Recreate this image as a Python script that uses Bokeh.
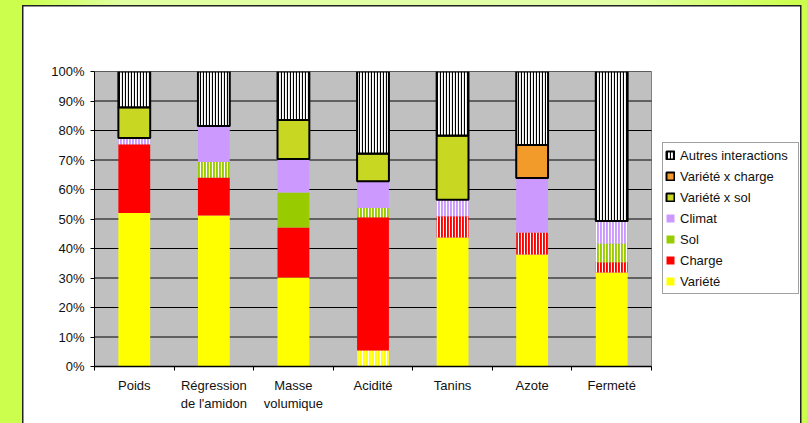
from bokeh.plotting import figure
from bokeh.models import (ColumnDataSource, Range1d, FixedTicker, PrintfTickFormatter,
                          Legend, LegendItem)
from bokeh.transform import stack
from bokeh.core.properties import field
from bokeh.embed import file_html
from bokeh.resources import INLINE

# ---------------- data ----------------
categories = ["Poids", "Régression\nde l'amidon", "Masse\nvolumique", "Acidité",
              "Tanins", "Azote", "Fermeté"]
series_names = ["Variété", "Charge", "Sol", "Climat", "Variété x sol",
                "Variété x charge", "Autres interactions"]

variete = [52.0, 51.2, 30.2, 5.4, 43.7, 38.0, 31.9]
charge = [23.3, 12.9, 16.9, 45.2, 7.2, 7.4, 3.4]
sol = [0.0, 5.2, 11.9, 3.1, 0.0, 0.0, 6.4]
climat = [2.2, 12.2, 11.3, 9.1, 5.6, 18.5, 7.6]
variete_x_sol = [10.4, 0.0, 13.3, 9.4, 21.8, 0.0, 0.0]
variete_x_charge = [0.0, 0.0, 0.0, 0.0, 0.0, 11.2, 0.0]
autres = [12.1, 18.5, 16.4, 27.8, 21.7, 24.9, 50.7]

# striped (hatched) segments
stripes_variete = [False, False, False, True, False, False, False]
stripes_charge = [False, False, False, False, True, True, True]
stripes_sol = [False, True, False, True, False, False, True]
stripes_climat = [True, False, False, False, True, False, True]
stripes_vxs = [False] * 7
stripes_vxc = [False] * 7
stripes_autres = [True] * 7

y_ticks = [0, 10, 20, 30, 40, 50, 60, 70, 80, 90, 100]

# ---------------- source ----------------
keys = ["variete", "charge", "sol", "climat", "vxs", "vxc", "autres"]
values = [variete, charge, sol, climat, variete_x_sol, variete_x_charge, autres]
stripes = [stripes_variete, stripes_charge, stripes_sol, stripes_climat,
           stripes_vxs, stripes_vxc, stripes_autres]

n = len(categories)
xs = [i + 0.5 for i in range(n)]
data = {"x": xs}
for k, v, s in zip(keys, values, stripes):
    data[k] = v
    data["h_" + k] = ["|" if f else " " for f in s]
source = ColumnDataSource(data)

FONT = "Liberation Sans"

# layout geometry (pixels)
W, H = 807, 423
LEFT, TOP, BOTTOM = 94, 71, 57
PLOT_W = 557                      # width of the grey plotting area
frame_w = W - LEFT
x_end = n * frame_w / PLOT_W      # frame extends right to hold the legend

p = figure(width=W, height=H, toolbar_location=None, output_backend="svg",
           x_range=Range1d(0, x_end), y_range=Range1d(0, 100),
           min_border_left=LEFT, min_border_right=0, min_border_top=TOP,
           min_border_bottom=BOTTOM,
           background_fill_color=None, border_fill_color=None,
           outline_line_color=None)
p.styles = {
    "background": (
        "linear-gradient(#222,#222) 22px 5px / 1.5px 100% no-repeat, "
        "linear-gradient(#222,#222) 799.5px 5px / 1.5px 100% no-repeat, "
        "linear-gradient(#222,#222) 22px 5px / 779px 1.5px no-repeat, "
        "linear-gradient(#fff,#fff) 22px 5px / 779px 100% no-repeat, "
        "linear-gradient(to right, #ccff4d 0px, #ccff4d 24px, #e0ffa0 120px, "
        "#e2ffa8 620px, #ccff4d 795px)"
    )
}

# grey plot area and horizontal grid lines
p.quad(left=0, right=n, bottom=y_ticks[0], top=y_ticks[-1],
       fill_color="#c0c0c0", line_color="#808080", line_width=1)
p.segment(x0=[0] * len(y_ticks), x1=[n] * len(y_ticks), y0=y_ticks, y1=y_ticks,
          line_color="black", line_width=1)

style = {
    "variete": dict(fill_color="#ffff00", line_color=None, hatch_color="white"),
    "charge": dict(fill_color="#ff0000", line_color=None, hatch_color="white"),
    "sol": dict(fill_color="#99cc00", line_color=None, hatch_color="white"),
    "climat": dict(fill_color="#cc99ff", line_color=None, hatch_color="white"),
    "vxs": dict(fill_color="#c8d822", line_color="black", line_width=2,
                hatch_color="white"),
    "vxc": dict(fill_color="#f29a2a", line_color="black", line_width=2,
                hatch_color="white"),
    "autres": dict(fill_color="white", line_color="black", line_width=2,
                   hatch_color="black"),
}

renderers = {}
for i, k in enumerate(keys):
    r = p.vbar(x="x", bottom=stack(*keys[:i]), top=stack(*keys[:i + 1]),
               width=0.4, source=source, hatch_pattern=field("h_" + k),
               hatch_scale=3, hatch_weight=1.2, **style[k])
    renderers[k] = r

# axes
p.yaxis.ticker = FixedTicker(ticks=y_ticks)
p.yaxis.formatter = PrintfTickFormatter(format="%d%%")
p.yaxis.major_tick_out = 4
p.yaxis.major_tick_in = 0
p.yaxis.minor_tick_line_color = None
p.yaxis.axis_line_color = "black"
p.yaxis.major_tick_line_color = "black"
p.yaxis.major_label_standoff = 6

p.xaxis.bounds = (0, n)
p.xaxis.ticker = FixedTicker(ticks=xs, minor_ticks=list(range(n + 1)))
p.xaxis.major_label_overrides = {x: c for x, c in zip(xs, categories)}
p.xaxis.major_tick_out = 0
p.xaxis.major_tick_in = 0
p.xaxis.major_tick_line_color = None
p.xaxis.minor_tick_out = 4
p.xaxis.minor_tick_in = 0
p.xaxis.minor_tick_line_color = "black"
p.xaxis.axis_line_color = "black"
p.xaxis.axis_line_width = 1.5
p.xaxis.major_label_standoff = 7
p.xaxis.major_label_text_line_height = 1.2

for ax in (p.xaxis, p.yaxis):
    ax.major_label_text_font = FONT
    ax.major_label_text_font_size = "13px"
    ax.major_label_text_color = "#111111"

p.xgrid.visible = False
p.ygrid.visible = False

# legend
legend_index = {"variete": 0, "charge": 0, "sol": 2, "climat": 2, "vxs": 0,
                "vxc": 5, "autres": 0}
items = []
for k, name in reversed(list(zip(keys, series_names))):
    items.append(LegendItem(label=name, renderers=[renderers[k]],
                            index=legend_index[k]))
legend = Legend(items=items, location=(568, 72))
legend.label_text_font = FONT
legend.label_text_font_size = "13px"
legend.label_text_color = "#111111"
legend.glyph_width = 10
legend.glyph_height = 10
legend.label_height = 20
legend.label_width = 116
legend.spacing = 1
legend.padding = 2
legend.margin = 0
legend.label_standoff = 5
legend.border_line_color = "#444444"
legend.border_line_width = 1
legend.background_fill_color = "white"
legend.background_fill_alpha = 1
p.add_layout(legend)

open("out.html", "w").write(file_html(p, INLINE))
